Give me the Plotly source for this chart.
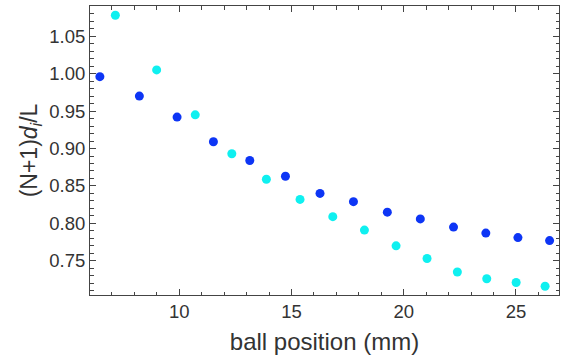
import plotly.graph_objects as go

# Blue series
blue_x = [6.46, 8.22, 9.90, 11.52, 13.14, 14.73, 16.27, 17.76, 19.27, 20.74, 22.22, 23.66, 25.09, 26.50]
blue_y = [0.996, 0.970, 0.942, 0.909, 0.884, 0.863, 0.840, 0.829, 0.815, 0.806, 0.795, 0.787, 0.781, 0.777]

# Cyan series
cyan_x = [7.15, 8.99, 10.71, 12.34, 13.88, 15.38, 16.84, 18.25, 19.66, 21.04, 22.39, 23.70, 25.01, 26.30]
cyan_y = [1.078, 1.005, 0.945, 0.893, 0.859, 0.832, 0.809, 0.791, 0.770, 0.753, 0.735, 0.726, 0.721, 0.716]

x_range = [6.02, 26.92]
y_range = [0.7043, 1.0904]

FONT = "Arial, Liberation Sans, sans-serif"
AX = "#444444"
TXT = "#333333"

fig = go.Figure()
fig.add_trace(go.Scatter(x=blue_x, y=blue_y, mode="markers", cliponaxis=False,
                         marker=dict(size=9, color="#0d35f5", line=dict(width=0)),
                         showlegend=False))
fig.add_trace(go.Scatter(x=cyan_x, y=cyan_y, mode="markers", cliponaxis=False,
                         marker=dict(size=9, color="#0ff0f0", line=dict(width=0)),
                         showlegend=False))

fig.update_layout(
    width=562, height=363,
    margin=dict(l=90, r=3, t=6, b=68),
    paper_bgcolor="white", plot_bgcolor="white",
    font=dict(family=FONT, color=TXT),
)
fig.update_xaxes(
    range=x_range, showgrid=False, zeroline=False, automargin=False,
    showline=True, linecolor=AX, linewidth=1, mirror="ticks",
    ticks="inside", ticklen=6, tickcolor=AX, tickwidth=1,
    tick0=10, dtick=5,
    minor=dict(ticks="inside", ticklen=3.5, tickcolor=AX, dtick=1, tick0=0, showgrid=False),
    tickfont=dict(size=18.5, color=TXT, family=FONT),
    title=dict(text="ball position (mm)", font=dict(size=24, color=TXT, family=FONT), standoff=11),
)
fig.update_yaxes(
    range=y_range, showgrid=False, zeroline=False, automargin=False,
    showline=True, linecolor=AX, linewidth=1, mirror="ticks",
    ticks="inside", ticklen=6, tickcolor=AX, tickwidth=1,
    tick0=0.75, dtick=0.05, tickformat=".2f",
    minor=dict(ticks="inside", ticklen=3.5, tickcolor=AX, dtick=0.01, tick0=0.70, showgrid=False),
    tickfont=dict(size=18.5, color=TXT, family=FONT),
    title=dict(text="(N+1)<i>d</i><sub><i>i</i></sub>/L", font=dict(size=23, color=TXT, family=FONT), standoff=5),
)

fig.write_html("out.html", config={"displayModeBar": False},
               post_script="document.body.style.margin='0';document.body.style.padding='0';")
